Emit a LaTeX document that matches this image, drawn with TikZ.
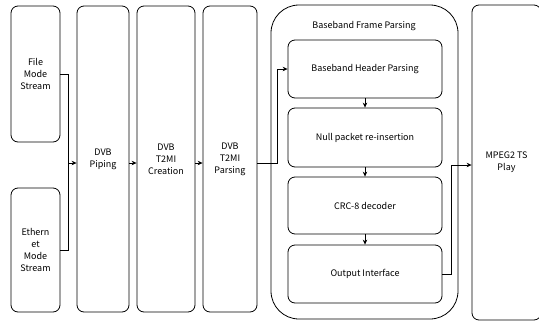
\documentclass[tikz,border=0pt]{standalone}
\usepackage{fontspec}
\setmainfont{Noto Sans CJK KR}
\usetikzlibrary{arrows.meta}

\begin{document}
\begin{tikzpicture}[x=1pt, y=-1pt, line width=0.8pt,
    block/.style={rectangle, draw, rounded corners=7pt, align=center, inner sep=1pt,
        font=\fontsize{9}{12}\selectfont},
    arrow/.style={-{Stealth[length=5pt, width=4.5pt]}}]
    \useasboundingbox (0,0) rectangle (539,322);

    % input streams
    \node[block, minimum width=49pt, minimum height=136pt] (file) at (35.5,74) {File\\Mode\\Stream};
    \node[block, minimum width=49pt, minimum height=124pt] (eth) at (35.5,250) {Ethern\\et\\Mode\\Stream};

    % processing chain
    \node[block, minimum width=52pt, minimum height=306pt] (piping) at (103,159) {DVB\\Piping};
    \node[block, minimum width=58pt, minimum height=306pt] (creation) at (166,159) {DVB\\T2MI\\Creation};
    \node[block, minimum width=54pt, minimum height=306pt] (parsing) at (230,159) {DVB\\T2MI\\Parsing};

    % baseband frame parsing group
    \node[block, rounded corners=28pt, minimum width=187pt, minimum height=314pt] (bbframe) at (364.5,162) {};
    \node[font=\fontsize{9}{12}\selectfont] (bbtitle) at (364,26) {Baseband Frame Parsing};
    \node[block, minimum width=154pt, minimum height=58pt] (header) at (365,69) {Baseband Header Parsing};
    \node[block, minimum width=154pt, minimum height=59pt] (null) at (365,137.5) {Null packet re-insertion};
    \node[block, minimum width=154pt, minimum height=57pt] (crc) at (365,205.5) {CRC-8 decoder};
    \node[block, minimum width=154pt, minimum height=58pt] (output) at (365,274) {Output Interface};

    \node[block, minimum width=69pt, minimum height=315pt] (mpeg) at (506.5,162.5) {MPEG2 TS\\Play};

    % connectors
    \coordinate (merge) at (68,163);
    \draw (file.east) -| (merge);
    \draw (eth.east) -| (merge);
    \draw[arrow] (merge) -- (merge -| piping.west);
    \draw[arrow] ([yshift=-4pt]piping.east) -- ([yshift=-4pt]creation.west);
    \draw[arrow] ([yshift=-4pt]creation.east) -- ([yshift=-4pt]parsing.west);
    \draw[arrow] ([yshift=-4pt]parsing.east) -- ++(20,0) |- (header.west);
    \draw[arrow] (header) -- (null);
    \draw[arrow] (null) -- (crc);
    \draw[arrow] (crc) -- (output);
    \draw[arrow] (output.east) -- ++(9,0) |- ([yshift=-2.5pt]mpeg.west);
\end{tikzpicture}
\end{document}
